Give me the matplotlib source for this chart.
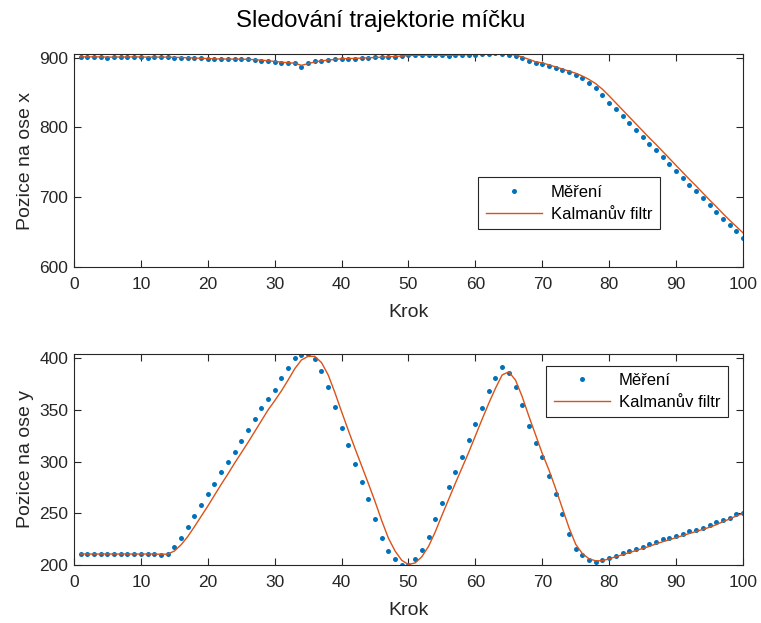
import matplotlib
matplotlib.use("Agg")
import matplotlib.pyplot as plt

plt.rcParams['font.family'] = ['Liberation Sans', 'DejaVu Sans']

steps = list(range(1, 101))

meas_x = [900.9, 900.9, 900.9, 900.9, 899.8, 900.9, 900.9, 900.9, 900.9, 900.9,
          899.5, 900.9, 900.9, 900.9, 899.5, 899.5, 899.0, 898.6, 898.6, 897.6,
          897.6, 897.6, 897.6, 897.6, 897.6, 897.2, 896.6, 895.7, 894.7, 893.7,
          892.8, 891.8, 891.8, 886.1, 892.8, 894.7, 895.7, 896.6, 897.6, 898.5,
          898.5, 898.5, 899.5, 899.5, 900.4, 900.4, 901.4, 901.4, 902.3, 903.3,
          903.3, 903.3, 903.3, 903.3, 903.3, 902.8, 903.8, 903.8, 904.3, 904.3,
          904.8, 904.8, 906.2, 904.8, 904.3, 902.3, 899.5, 895.7, 891.8, 891.4,
          888.0, 885.1, 881.8, 878.9, 875.1, 870.3, 863.6, 856.0, 846.0, 835.5,
          825.9, 816.3, 806.3, 796.3, 786.3, 776.2, 767.2, 757.2, 747.1, 737.6,
          728.0, 718.0, 708.9, 698.9, 688.8, 679.3, 669.3, 660.7, 651.1, 641.6]

kalman_x = [900.9, 900.9, 900.9, 900.8, 900.6, 900.6, 900.7, 900.8, 900.8, 900.8,
            900.5, 900.5, 900.6, 900.6, 900.3, 900.0, 899.6, 899.2, 898.9, 898.4,
            898.1, 897.9, 897.8, 897.7, 897.6, 897.4, 896.9, 896.2, 895.3, 894.4,
            893.4, 892.5, 891.8, 888.8, 891.2, 893.6, 895.2, 896.3, 897.3, 898.2,
            898.5, 898.7, 899.2, 899.5, 900.1, 900.4, 901.1, 901.4, 902.1, 902.9,
            903.2, 903.3, 903.3, 903.3, 903.3, 903.1, 903.5, 903.7, 904.1, 904.3,
            904.6, 904.8, 905.7, 905.4, 904.8, 903.3, 900.8, 897.4, 893.9, 892.3,
            889.5, 886.5, 883.5, 880.5, 877.5, 873.5, 868.5, 862.5, 854.5, 845.0,
            835.0, 825.0, 815.0, 805.0, 795.0, 785.0, 775.5, 765.5, 755.5, 745.5,
            735.5, 725.5, 716.0, 706.0, 696.0, 686.5, 676.5, 667.0, 658.0, 649.0]

meas_y = [210.6, 210.6, 210.6, 210.6, 210.6, 210.6, 210.6, 210.6, 210.6, 210.6,
          210.6, 210.6, 209.5, 210.6, 217.6, 226.4, 236.4, 247.3, 257.7, 268.6,
          278.6, 289.6, 299.6, 309.6, 319.6, 330.6, 340.9, 351.9, 360.9, 369.9,
          380.9, 390.9, 400.0, 403.2, 404.2, 399.6, 388.0, 371.9, 353.2, 332.8,
          315.7, 297.7, 280.6, 263.5, 244.8, 225.7, 213.5, 205.4, 199.6, 199.6,
          205.7, 214.4, 227.3, 244.1, 259.6, 275.7, 289.6, 304.8, 320.9, 336.7,
          351.9, 368.0, 380.9, 391.9, 385.8, 371.9, 354.8, 334.8, 317.7, 304.5,
          285.7, 268.6, 249.6, 230.2, 215.7, 209.3, 204.4, 203.1, 204.4, 207.0,
          208.9, 211.5, 213.5, 215.7, 217.6, 219.9, 222.5, 224.8, 226.4, 228.3,
          230.2, 232.5, 234.1, 236.1, 238.3, 241.9, 243.5, 245.7, 249.0, 250.6]

kalman_y = [210.6, 210.6, 210.6, 210.6, 210.6, 210.6, 210.6, 210.6, 210.6, 210.6,
            210.6, 210.6, 210.4, 210.5, 213.5, 219.5, 227.5, 237.0, 247.0, 257.0,
            267.5, 278.0, 288.0, 298.5, 308.5, 318.5, 329.0, 339.5, 350.0, 359.0,
            368.5, 379.0, 390.0, 398.5, 402.0, 402.0, 396.0, 384.0, 367.0, 348.5,
            330.5, 313.0, 296.0, 279.0, 261.5, 243.0, 226.0, 213.5, 204.5, 200.5,
            202.0, 208.0, 218.0, 232.0, 248.0, 263.5, 279.0, 294.0, 309.0, 325.0,
            341.0, 356.5, 371.0, 384.0, 387.0, 379.0, 363.0, 344.0, 326.0, 308.0,
            292.0, 274.0, 255.0, 236.0, 220.0, 211.0, 206.0, 204.0, 204.2, 206.0,
            208.0, 210.0, 212.0, 214.0, 216.0, 218.0, 220.5, 222.5, 224.5, 226.5,
            228.5, 230.5, 232.5, 234.5, 236.5, 239.0, 242.0, 244.5, 247.5, 250.0]

xticks = list(range(0, 101, 10))
yticks_top = [600, 700, 800, 900]
yticks_bot = [200, 250, 300, 350, 400]

title = "Sledování trajektorie míčku"
xlabel = "Krok"
ylabel_top = "Pozice na ose x"
ylabel_bot = "Pozice na ose y"
leg_meas = "Měření"
leg_kal = "Kalmanův filtr"

blue = "#0072BD"
orange = "#D95319"
dark = "#262626"

fig = plt.figure(figsize=(7.61, 6.23), dpi=100)
ax1 = fig.add_axes([0.0972, 0.5714, 0.8791, 0.3419])
ax2 = fig.add_axes([0.0972, 0.0931, 0.8791, 0.3387])

def style(ax):
    for s in ax.spines.values():
        s.set_color(dark)
        s.set_linewidth(0.8)
    ax.tick_params(direction='in', top=True, right=True, length=5, width=0.8,
                   colors=dark, labelsize=12.5)
    ax.tick_params(axis='x', pad=7.5)
    ax.tick_params(axis='y', pad=4)
    ax.set_xlim(0, 100)
    ax.set_xticks(xticks)
    ax.set_xlabel(xlabel, fontsize=14, color=dark, labelpad=8)

for ax, m, k, yt, yl, ylab in [
        (ax1, meas_x, kalman_x, yticks_top, (600, 905), ylabel_top),
        (ax2, meas_y, kalman_y, yticks_bot, (200, 404.3), ylabel_bot)]:
    ax.plot(steps, m, linestyle='none', marker='o', markersize=3.6,
            markerfacecolor=blue, markeredgewidth=0, color=blue, label=leg_meas)
    ax.plot(steps, k, color=orange, linewidth=1.0, label=leg_kal)
    style(ax)
    ax.set_yticks(yt)
    ax.set_ylim(*yl)
    ax.set_ylabel(ylab, fontsize=14, color=dark, labelpad=4)

def legend(ax, anchor):
    lg = ax.legend(loc='lower left', bbox_to_anchor=anchor, borderaxespad=0,
                   fontsize=12, frameon=True, fancybox=False, handlelength=3.4,
                   handletextpad=0.5, borderpad=0.45, labelspacing=0.4,
                   framealpha=1, edgecolor=dark)
    lg.get_frame().set_linewidth(0.8)
    for t in lg.get_texts():
        t.set_color('black')

legend(ax1, (0.604, 0.178))
legend(ax2, (0.706, 0.70))

fig.text(0.5, 0.966, title, ha='center', va='center', fontsize=17.3, color='black')

fig.savefig("out.png", dpi=100)
